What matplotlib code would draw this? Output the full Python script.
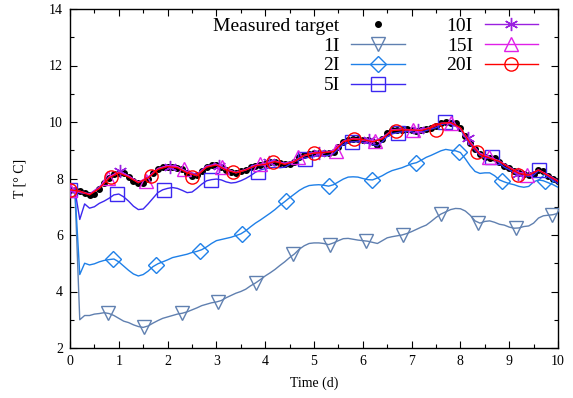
import numpy as np
import matplotlib
matplotlib.use("Agg")
import matplotlib.pyplot as plt
from matplotlib.lines import Line2D

plt.rcParams['font.family'] = ['Liberation Serif', 'DejaVu Serif']

# ---- data -------------------------------------------------------------
t_fine = np.round(np.arange(0, 10.0001, 0.1), 2)
t_coarse = np.round(np.arange(0, 10.0001, 0.2), 2)

measured = [7.6, 7.58, 7.55, 7.5, 7.42, 7.45, 7.62, 7.85, 8.02, 8.15,
            8.2, 8.2, 8.05, 7.92, 7.84, 7.84, 8.0, 8.18, 8.32, 8.4,
            8.42, 8.4, 8.38, 8.35, 8.2, 8.08, 8.12, 8.28, 8.4, 8.48,
            8.48, 8.42, 8.3, 8.22, 8.2, 8.25, 8.3, 8.4, 8.45, 8.48,
            8.5, 8.58, 8.6, 8.55, 8.5, 8.52, 8.6, 8.75, 8.82, 8.88,
            8.9, 8.9, 8.92, 8.92, 8.95, 9.1, 9.3, 9.38, 9.4, 9.4,
            9.38, 9.35, 9.3, 9.2, 9.4, 9.6, 9.7, 9.72, 9.72, 9.75,
            9.72, 9.68, 9.7, 9.75, 9.8, 9.85, 9.95, 10.0, 9.98, 9.95,
            9.8, 9.5, 9.25, 9.05, 8.85, 8.75, 8.72, 8.72, 8.6, 8.45,
            8.38, 8.25, 8.18, 8.15, 8.12, 8.15, 8.3, 8.25, 8.1, 8.0,
            7.9]

s1I = [7.6, 7.6, 3.0, 3.15, 3.15, 3.2, 3.22, 3.25, 3.22, 3.15,
       3.05, 2.95, 2.9, 2.82, 2.76, 2.73, 2.78, 2.88, 2.97, 3.05,
       3.1, 3.15, 3.2, 3.23, 3.28, 3.35, 3.42, 3.5, 3.55, 3.6,
       3.63, 3.68, 3.78, 3.86, 3.94, 4.0, 4.08, 4.2, 4.3, 4.42,
       4.55, 4.66, 4.78, 4.92, 5.05, 5.2, 5.33, 5.5, 5.62, 5.7,
       5.72, 5.72, 5.7, 5.66, 5.72, 5.8, 5.87, 5.88, 5.85, 5.82,
       5.8, 5.78, 5.74, 5.7, 5.8, 5.9, 5.94, 5.97, 6.0, 6.05,
       6.12, 6.2, 6.28, 6.35, 6.48, 6.62, 6.74, 6.82, 6.9, 6.94,
       6.93, 6.85, 6.7, 6.5, 6.42, 6.48, 6.5, 6.45, 6.38, 6.35,
       6.28, 6.24, 6.25, 6.3, 6.32, 6.42, 6.6, 6.68, 6.7, 6.72,
       6.77]

s2I = [7.6, 7.6, 4.6, 5.0, 4.94, 4.98, 5.05, 5.1, 5.13, 5.15,
       5.05, 4.9, 4.75, 4.62, 4.55, 4.6, 4.72, 4.88, 4.98, 5.05,
       5.12, 5.2, 5.24, 5.28, 5.32, 5.38, 5.42, 5.48, 5.58, 5.7,
       5.8, 5.84, 5.88, 5.92, 5.98, 6.04, 6.15, 6.29, 6.42, 6.53,
       6.65, 6.77, 6.9, 7.05, 7.18, 7.32, 7.45, 7.58, 7.68, 7.75,
       7.77, 7.78, 7.76, 7.73, 7.78, 7.88, 7.98, 8.05, 8.06, 8.05,
       8.0, 7.96, 7.95, 8.02, 8.1, 8.2, 8.28, 8.33, 8.38, 8.45,
       8.52, 8.56, 8.65, 8.75, 8.82, 8.9, 8.98, 9.03, 9.0, 8.98,
       8.92, 8.7, 8.45, 8.25, 8.18, 8.2, 8.2, 8.1, 7.95, 7.88,
       7.82, 7.78, 7.72, 7.69, 7.72, 7.88, 7.95, 7.92, 7.85, 7.78,
       7.69]

s5I = [7.6, 7.6, 6.55, 7.1, 6.95, 7.0, 7.12, 7.2, 7.3, 7.42,
       7.45, 7.35, 7.2, 7.02, 6.9, 6.92, 7.1, 7.3, 7.5, 7.6,
       7.65, 7.68, 7.65, 7.58, 7.5, 7.52, 7.65, 7.8, 7.92, 7.96,
       7.98, 7.95, 7.88, 7.84, 7.86, 7.92, 8.0, 8.1, 8.22, 8.3,
       8.35, 8.38, 8.4, 8.38, 8.4, 8.5, 8.6, 8.68, 8.72, 8.75,
       8.78, 8.8, 8.8, 8.82, 8.88, 9.05, 9.2, 9.28, 9.3, 9.3,
       9.28, 9.25, 9.2, 9.15, 9.3, 9.48, 9.58, 9.62, 9.65, 9.68,
       9.65, 9.62, 9.64, 9.7, 9.75, 9.8, 9.9, 9.95, 9.92, 9.88,
       9.75, 9.45, 9.2, 9.0, 8.82, 8.72, 8.72, 8.68, 8.55, 8.4,
       8.32, 8.2, 8.12, 8.1, 8.08, 8.12, 8.28, 8.2, 8.05, 7.95,
       7.82]

s10I = [7.6, 7.5, 7.45, 7.7, 8.05, 8.25, 8.1, 7.85, 8.05, 8.35,
        8.45, 8.4, 8.25, 8.15, 8.45, 8.5, 8.35, 8.2, 8.3, 8.45,
        8.55, 8.6, 8.55, 8.6, 8.8, 8.9, 8.9, 9.0, 9.3, 9.4,
        9.35, 9.3, 9.45, 9.7, 9.75, 9.7, 9.72, 9.8, 9.95, 9.95,
        9.75, 9.3, 8.9, 8.75, 8.6, 8.4, 8.2, 8.15, 8.3, 8.12,
        7.92]

s15I = [7.6, 7.55, 7.45, 7.65, 8.05, 8.22, 8.08, 7.88, 8.02, 8.35,
        8.45, 8.42, 8.22, 8.1, 8.42, 8.5, 8.32, 8.22, 8.32, 8.48,
        8.52, 8.62, 8.52, 8.62, 8.82, 8.92, 8.92, 8.98, 9.32, 9.42,
        9.38, 9.32, 9.42, 9.72, 9.75, 9.72, 9.72, 9.82, 9.95, 9.98,
        9.78, 9.28, 8.88, 8.75, 8.62, 8.4, 8.2, 8.12, 8.3, 8.12,
        7.9]

s20I = [7.6, 7.55, 7.42, 7.65, 8.02, 8.2, 8.05, 7.85, 8.02, 8.32,
        8.42, 8.38, 8.2, 8.1, 8.4, 8.48, 8.3, 8.2, 8.3, 8.45,
        8.5, 8.6, 8.5, 8.6, 8.82, 8.9, 8.92, 8.95, 9.3, 9.4,
        9.38, 9.3, 9.4, 9.7, 9.72, 9.72, 9.7, 9.8, 9.95, 9.98,
        9.8, 9.25, 8.85, 8.72, 8.6, 8.38, 8.18, 8.12, 8.3, 8.1,
        7.9]

# marker positions
m1I_t = [0.77, 1.52, 2.29, 3.04, 3.81, 4.56, 5.32, 6.07, 6.83, 7.60, 8.36, 9.13, 9.88]
m1I_y = [3.23, 2.73, 3.23, 3.64, 4.29, 5.32, 5.65, 5.79, 6.0, 6.74, 6.41, 6.24, 6.71]
m2I_t = [0.88, 1.76, 2.66, 3.52, 4.43, 5.31, 6.19, 7.09, 7.97, 8.85, 9.73]
m2I_y = [5.15, 4.94, 5.44, 6.04, 7.21, 7.73, 7.95, 8.55, 8.95, 7.9, 7.9]
m5I_t = [0.0, 0.96, 1.92, 2.88, 3.85, 4.81, 5.77, 6.73, 7.69, 8.65, 9.62]
m5I_y = [7.6, 7.45, 7.6, 7.95, 8.24, 8.69, 9.3, 9.61, 10.0, 8.77, 8.3]
m10I_t = [0.0, 1.02, 2.04, 3.06, 4.08, 5.1, 6.12, 7.14, 8.16, 9.18]
m10I_y = [7.6, 8.25, 8.4, 8.46, 8.57, 8.9, 9.35, 9.7, 9.42, 8.15]
m15I_t = [0.0, 0.78, 1.56, 2.34, 3.12, 3.9, 4.68, 5.46, 6.24, 7.02, 7.8, 8.58, 9.36]
m15I_y = [7.6, 8.02, 7.92, 8.35, 8.42, 8.5, 8.75, 8.98, 9.32, 9.72, 9.98, 8.75, 8.13]
m20I_t = [0.0, 0.83, 1.66, 2.5, 3.33, 4.16, 5.0, 5.82, 6.68, 7.5, 8.35, 9.18]
m20I_y = [7.6, 8.06, 8.1, 8.06, 8.23, 8.6, 8.9, 9.4, 9.69, 9.72, 8.94, 8.12]

x_ticks = [0, 1, 2, 3, 4, 5, 6, 7, 8, 9, 10]
y_ticks = [2, 4, 6, 8, 10, 12, 14]

# ---- plot -------------------------------------------------------------
fig = plt.figure(figsize=(5.73, 3.98), dpi=100)
ax = fig.add_axes([70/573, 1-348/398, (558-70)/573, (348-9)/398])

c1, c2, c5 = '#6080b0', '#1f80e8', '#3c28f0'
c10, c15, c20 = '#9a20e0', '#e020e8', '#ff0000'
lw = 1.0
ms = 9.5

ax.plot(t_fine, measured, ls='none', marker='o', ms=4.0, color='black', zorder=2)

series = [
    (t_fine, s1I, m1I_t, m1I_y, c1, 'v', '1I'),
    (t_fine, s2I, m2I_t, m2I_y, c2, 'D', '2I'),
    (t_fine, s5I, m5I_t, m5I_y, c5, 's', '5I'),
    (t_coarse, s10I, m10I_t, m10I_y, c10, '*', '10I'),
    (t_coarse, s15I, m15I_t, m15I_y, c15, '^', '15I'),
    (t_coarse, s20I, m20I_t, m20I_y, c20, 'o', '20I'),
]
handles = {}
for i, (tt, yy, mt, my, col, mk, lab) in enumerate(series):
    z = 3 + i
    ax.plot(tt, yy, color=col, lw=lw, zorder=z)
    msz = ms * (0.85 if mk == 'D' else 1.0)
    if mk == '*':
        ax.plot(mt, my, ls='none', marker=(6, 2, 0), ms=ms, color=col,
                mew=1.0, zorder=z)
        h = Line2D([], [], color=col, lw=lw, marker=(6, 2, 0), ms=ms, mew=1.0)
    else:
        ax.plot(mt, my, ls='none', marker=mk, ms=msz, mfc='none', mec=col,
                mew=1.0, zorder=z)
        h = Line2D([], [], color=col, lw=lw, marker=mk, ms=msz, mfc='none',
                   mec=col, mew=1.0)
    handles[lab] = h

h_meas = Line2D([], [], ls='none', marker='o', ms=4.0, color='black')

order = [h_meas, handles['1I'], handles['2I'], handles['5I'],
         handles['10I'], handles['15I'], handles['20I']]
labels = ['Measured target', '1I', '2I', '5I', '10I', '15I', '20I']
ax.legend(order, labels, ncol=2, markerfirst=False, frameon=False,
          loc='upper right', bbox_to_anchor=(538/573, 1-17/398),
          bbox_transform=fig.transFigure, borderpad=0, borderaxespad=0,
          fontsize=14, handlelength=2.75, handletextpad=0.6,
          columnspacing=2.15, labelspacing=0.12)

ax.set_xlim(0, 10)
ax.set_ylim(2, 14)
ax.set_xticks(x_ticks)
ax.set_yticks(y_ticks)
ax.set_xticks(np.arange(0.5, 10, 1.0), minor=True)
ax.set_yticks(np.arange(3, 14, 2), minor=True)
ax.tick_params(which='both', direction='in', top=True, right=True,
               labelsize=10, width=0.8)
ax.tick_params(which='major', length=5, pad=5)
ax.tick_params(which='minor', length=3)
for sp in ax.spines.values():
    sp.set_linewidth(1.0)

ax.set_xlabel('Time (d)', fontsize=10, labelpad=6)
ax.set_ylabel('T [° C]', fontsize=10, labelpad=16)

fig.savefig('out.png', dpi=100)
